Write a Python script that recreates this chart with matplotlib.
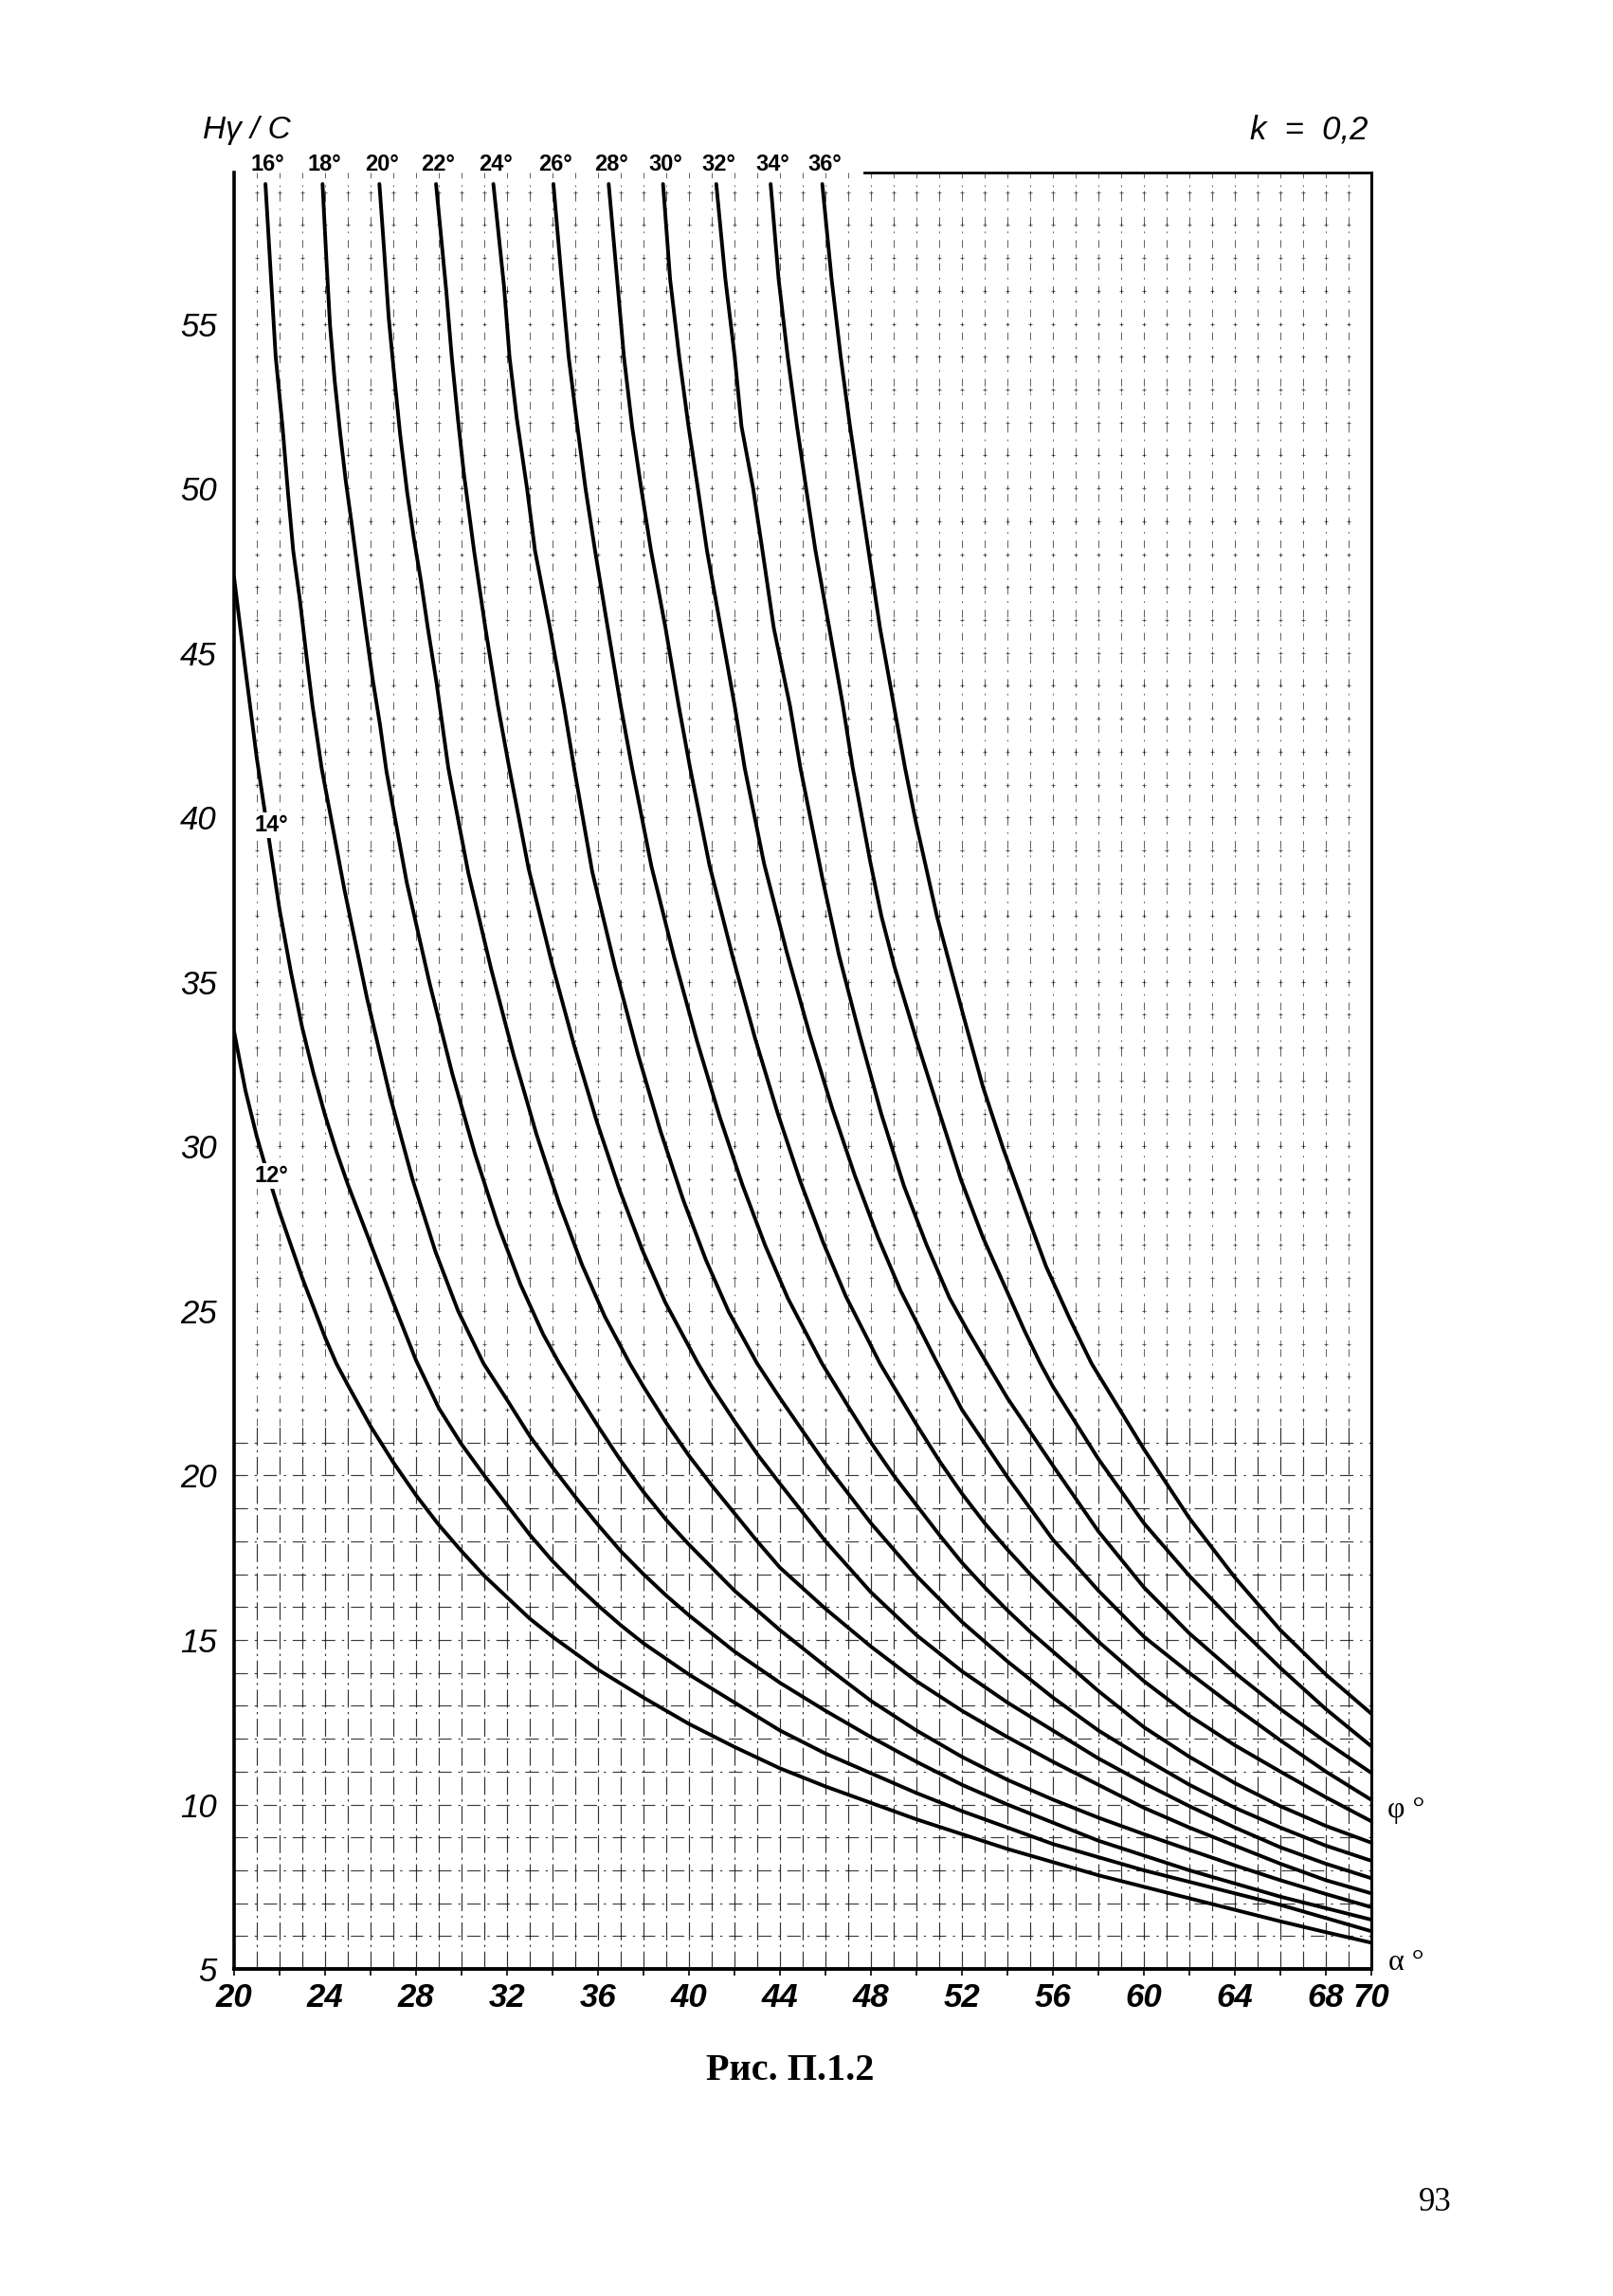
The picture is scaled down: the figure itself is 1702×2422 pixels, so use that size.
import matplotlib.pyplot as plt
import numpy as np

# slope angle alpha (deg) and H*gamma/C, one pair of lists per phi
alpha_12 = [20.0, 20.5, 21.0, 21.5, 22.0, 22.5, 23.0, 23.5, 24.0, 24.5, 25, 26, 27, 28, 29, 30, 31, 32,
            33, 34, 35, 36, 38, 40, 42, 44, 46, 48, 50, 52, 54, 56, 58, 60, 62, 64, 66, 68, 70]
h_12 = [33.5, 31.7, 30.3, 29.1, 28.0, 27.0, 26.0, 25.1, 24.2, 23.4, 22.75, 21.5, 20.4, 19.4, 18.5, 17.7,
        16.95, 16.3, 15.65, 15.1, 14.6, 14.1, 13.25, 12.45, 11.75, 11.1, 10.55, 10.05, 9.55, 9.1, 8.65,
        8.25, 7.85, 7.5, 7.15, 6.8, 6.45, 6.12, 5.8]

alpha_14 = [20.0, 20.5, 21.0, 21.5, 22.0, 22.5, 23.0, 23.5, 24.0, 24.5, 25, 26, 27, 28, 29, 30, 31, 32,
            33, 34, 35, 36, 37, 38, 40, 42, 44, 46, 48, 50, 52, 54, 56, 58, 60, 62, 64, 66, 68, 70]
h_14 = [47.3, 44.5, 41.8, 39.5, 37.2, 35.3, 33.6, 32.2, 30.95, 29.85, 28.85, 27.05, 25.25, 23.5, 22.05,
        20.95, 20.0, 19.1, 18.2, 17.4, 16.7, 16.05, 15.45, 14.9, 13.95, 13.1, 12.25, 11.55, 10.95,
        10.35, 9.8, 9.3, 8.8, 8.4, 8.0, 7.65, 7.3, 6.95, 6.55, 6.15]

alpha_16 = [21.38, 21.83, 22.13, 22.37, 22.6, 22.9, 23.18, 23.45, 23.85, 24.85, 25.85, 26.85, 27.85,
            28.85, 29.85, 30.97, 32, 33, 34, 35, 36, 37, 38, 39, 40, 42, 44, 46, 48, 50, 52, 54, 56,
            58, 60, 62, 64, 66, 68, 70]
h_16 = [59.25, 54.0, 51.88, 49.88, 48.11, 46.58, 44.92, 43.39, 41.5, 37.81, 34.49, 31.55, 28.99, 26.81,
        25.0, 23.4, 22.3, 21.2, 20.25, 19.35, 18.5, 17.7, 17.0, 16.35, 15.75, 14.65, 13.7, 12.85,
        12.05, 11.3, 10.6, 10.0, 9.45, 8.9, 8.45, 8.0, 7.6, 7.2, 6.85, 6.5]

alpha_18 = [23.89, 24.06, 24.22, 24.42, 24.67, 24.91, 25.17, 25.48, 25.78, 26.09, 26.42, 26.7, 27.59,
            28.59, 29.59, 30.59, 31.59, 32.59, 33.59, 34.3, 35, 36, 37, 38, 39, 40, 42, 44, 46, 48,
            50, 52, 54, 56, 58, 60, 62, 64, 66, 68, 70]
h_18 = [59.25, 56.95, 54.95, 53.3, 51.65, 50.23, 48.93, 47.28, 45.75, 44.22, 42.8, 41.4, 38.03, 34.98,
        32.22, 29.78, 27.64, 25.81, 24.29, 23.4, 22.6, 21.5, 20.45, 19.5, 18.65, 17.9, 16.5, 15.3,
        14.2, 13.15, 12.25, 11.45, 10.75, 10.15, 9.6, 9.1, 8.62, 8.15, 7.7, 7.28, 6.88]

alpha_20 = [26.39, 26.59, 26.8, 27.06, 27.3, 27.61, 27.91, 28.22, 28.52, 28.9, 29.42, 30.3, 31.3, 32.3,
            33.3, 34.3, 35.3, 36.3, 37.4, 38, 39, 40, 41, 42, 43, 44, 46, 48, 50, 52, 54, 56, 58, 60,
            62, 64, 66, 68, 70]
h_20 = [59.25, 57.31, 55.18, 53.3, 51.65, 49.88, 48.46, 47.17, 45.75, 44.1, 41.5, 38.31, 35.4, 32.75,
        30.36, 28.25, 26.4, 24.83, 23.4, 22.7, 21.6, 20.6, 19.7, 18.85, 18.0, 17.2, 15.95, 14.8, 13.75,
        12.85, 12.05, 11.3, 10.6, 9.9, 9.3, 8.75, 8.2, 7.7, 7.3]

alpha_22 = [28.88, 29.33, 29.57, 29.84, 30.1, 30.55, 31.05, 31.6, 32.1, 32.95, 33.95, 34.95, 35.95,
            36.95, 37.95, 38.95, 40.4, 41, 42, 43, 44, 46, 48, 50, 52, 54, 56, 58, 60, 62, 64, 66,
            68, 70]
h_22 = [59.25, 56.0, 54.0, 52.12, 50.47, 48.11, 45.75, 43.39, 41.5, 38.44, 35.63, 33.07, 30.75, 28.68,
        26.85, 25.27, 23.4, 22.7, 21.65, 20.65, 19.75, 18.0, 16.45, 15.15, 14.05, 13.1, 12.25, 11.4,
        10.65, 9.95, 9.3, 8.7, 8.2, 7.76]

alpha_24 = [31.4, 31.87, 32.11, 32.43, 32.88, 33.23, 33.89, 34.5, 34.95, 35.75, 36.75, 37.75, 38.75,
            39.75, 40.75, 41.75, 43.0, 44, 46, 48, 50, 52, 54, 56, 58, 60, 62, 64, 66, 68, 70]
h_24 = [59.25, 56.13, 54.0, 52.12, 50.0, 48.11, 45.75, 43.39, 41.5, 38.34, 35.45, 32.82, 30.46, 28.37,
        26.54, 24.97, 23.4, 22.35, 20.35, 18.55, 16.95, 15.55, 14.35, 13.25, 12.25, 11.4, 10.6, 9.9,
        9.3, 8.75, 8.29]

alpha_26 = [34.04, 34.4, 34.71, 35.05, 35.45, 35.87, 36.43, 37.0, 37.5, 38.35, 39.35, 40.35, 41.35,
            42.35, 43.35, 44.35, 45.85, 47, 48, 49, 50, 51, 52, 53, 54, 55, 56, 58, 60, 62, 64, 66,
            68, 70]
h_26 = [59.25, 56.36, 54.0, 52.12, 50.0, 48.11, 45.75, 43.39, 41.5, 38.51, 35.74, 33.21, 30.9, 28.83,
        26.99, 25.38, 23.4, 22.1, 21.0, 20.0, 19.1, 18.2, 17.35, 16.6, 15.9, 15.25, 14.65, 13.45,
        12.35, 11.45, 10.65, 9.95, 9.35, 8.84]

alpha_28 = [36.47, 36.84, 37.14, 37.5, 37.9, 38.33, 38.97, 39.55, 40.05, 40.9, 41.9, 42.9, 43.9, 44.9,
            45.9, 46.9, 48.4, 49, 50, 51, 52, 53, 54, 55, 56, 58, 60, 62, 64, 66, 68, 70]
h_28 = [59.25, 56.36, 54.0, 51.88, 50.0, 48.11, 45.75, 43.39, 41.5, 38.55, 35.82, 33.3, 31.01, 28.93,
        27.08, 25.44, 23.4, 22.7, 21.55, 20.45, 19.45, 18.55, 17.75, 17.0, 16.3, 14.95, 13.75, 12.7,
        11.8, 11.0, 10.22, 9.49]

alpha_30 = [38.86, 39.17, 39.57, 39.98, 40.39, 40.79, 41.4, 42.01, 42.45, 43.3, 44.3, 45.3, 46.3, 47.3,
            48.3, 49.3, 50.85, 52, 54, 56, 58, 60, 62, 64, 66, 68, 70]
h_30 = [59.25, 56.36, 54.0, 51.88, 50.0, 48.11, 45.75, 43.39, 41.5, 38.6, 35.9, 33.42, 31.15, 29.1,
        27.25, 25.62, 23.5, 22.0, 19.95, 18.05, 16.5, 15.1, 14.0, 12.95, 11.95, 11.0, 10.14]

alpha_32 = [41.2, 41.6, 42.01, 42.31, 42.82, 43.23, 43.73, 44.44, 44.9, 45.85, 46.6, 47.5, 48.45, 49.45,
            50.45, 51.45, 52.25, 53.1, 54, 56, 58, 60, 62, 64, 66, 68, 70]
h_32 = [59.25, 56.36, 54.0, 51.88, 50.0, 48.11, 45.75, 43.39, 41.5, 38.2, 35.8, 33.4, 31.0, 28.8, 27.0,
        25.4, 24.4, 23.4, 22.35, 20.3, 18.3, 16.6, 15.2, 14.0, 12.9, 11.9, 10.96]

alpha_34 = [43.59, 43.94, 44.34, 44.75, 45.15, 45.56, 46.17, 46.77, 47.2, 47.97, 48.46, 49.03, 50.0,
            50.97, 51.95, 52.92, 53.85, 54.75, 55.45, 56, 58, 60, 62, 64, 66, 68, 70]
h_34 = [59.25, 56.36, 54.0, 51.88, 50.0, 48.11, 45.75, 43.39, 41.5, 38.65, 37.0, 35.47, 33.24, 31.12,
        29.0, 27.24, 25.8, 24.4, 23.4, 22.7, 20.5, 18.55, 16.95, 15.5, 14.15, 12.9, 11.77]

alpha_36 = [45.86, 46.27, 46.67, 47.08, 47.48, 47.89, 48.4, 49.01, 49.5, 49.95, 50.9, 52.03, 52.92,
            53.81, 54.79, 55.7, 56.74, 57.7, 60, 62, 64, 66, 68, 70]
h_36 = [59.25, 56.36, 54.0, 51.88, 50.0, 48.11, 45.75, 43.39, 41.5, 39.94, 37.0, 34.06, 31.82, 29.94,
        28.06, 26.35, 24.76, 23.4, 20.8, 18.7, 16.9, 15.3, 13.95, 12.76]

x_ticks = [20, 24, 28, 32, 36, 40, 44, 48, 52, 56, 60, 64, 68, 70]
y_ticks = [5, 10, 15, 20, 25, 30, 35, 40, 45, 50, 55]

curves = [(12, alpha_12, h_12), (14, alpha_14, h_14), (16, alpha_16, h_16), (18, alpha_18, h_18),
          (20, alpha_20, h_20), (22, alpha_22, h_22), (24, alpha_24, h_24), (26, alpha_26, h_26),
          (28, alpha_28, h_28), (30, alpha_30, h_30), (32, alpha_32, h_32), (34, alpha_34, h_34),
          (36, alpha_36, h_36)]

X_MIN, X_MAX = 20, 70
Y_MIN, Y_MAX = 5, 59.6
SPLIT = 21.5   # grid is drawn denser below this level, as on the printed sheet

sans = ['Liberation Sans Narrow', 'Liberation Sans']
serif = ['Liberation Serif', 'DejaVu Serif']

fig = plt.figure(figsize=(17.02, 24.22), dpi=100)
ax = fig.add_axes([0.1451, 0.1424, 0.7051, 0.7825])
ax.set_xlim(X_MIN, X_MAX)
ax.set_ylim(Y_MIN, Y_MAX)

# background grid
ink = '#1a1a1a'
for a in range(X_MIN + 1, X_MAX):
    ax.plot([a, a], [Y_MIN, SPLIT], color=ink, lw=0.85, ls=(0, (16, 4, 2, 4)), alpha=0.9, zorder=1)
    ax.plot([a, a], [SPLIT, Y_MAX], color=ink, lw=0.65, ls=(0, (9, 8, 2, 8)), alpha=0.75, zorder=1)
for h in range(Y_MIN + 1, 22):
    ax.plot([X_MIN, X_MAX], [h, h], color=ink, lw=0.85, ls=(0, (12, 6, 2, 6)), alpha=0.85, zorder=1)

gx, gy = np.meshgrid(np.arange(X_MIN + 1, X_MAX), np.arange(22, 60))
ax.scatter(gx.ravel(), gy.ravel(), marker='+', s=9, lw=0.6, color=ink, alpha=0.8, zorder=1)

for phi, a, h in curves:
    ax.plot(a, h, color='black', lw=2.8, solid_capstyle='round', solid_joinstyle='round', zorder=3)
    if phi >= 16:
        ax.text(a[0] + 0.1, 59.85, f'{phi}°', ha='center', va='center', fontsize=17,
                fontweight='bold', family=sans, clip_on=False)

lbl_box = dict(facecolor='white', edgecolor='none', pad=1.5)
ax.text(21.63, 39.76, '14°', ha='center', va='center', fontsize=17, fontweight='bold',
        family=sans, bbox=lbl_box, zorder=4)
ax.text(21.63, 29.1, '12°', ha='center', va='center', fontsize=17, fontweight='bold',
        family=sans, bbox=lbl_box, zorder=4)

# frame: no full top spine, only the short piece right of the labels
ax.spines['top'].set_visible(False)
ax.spines['left'].set_linewidth(2.6)
ax.spines['bottom'].set_linewidth(2.8)
ax.spines['right'].set_linewidth(2.2)
ax.plot([47.7, X_MAX], [Y_MAX, Y_MAX], color='black', lw=2.0, clip_on=False, zorder=3)

ax.set_xticks(x_ticks)
ax.set_xticklabels([str(v) for v in x_ticks], fontsize=25, style='italic', fontweight='bold',
                   family=sans)
ax.set_xticks(np.arange(X_MIN, X_MAX + 1, 2), minor=True)
ax.set_yticks(y_ticks)
ax.set_yticklabels([str(v) for v in y_ticks], fontsize=25, style='italic', family=sans)
ax.tick_params(axis='x', which='both', length=5, width=1.2, pad=5)
ax.tick_params(axis='y', which='both', length=0, pad=13)

fig.text(0.1528, 0.9434, 'Hγ / C', ha='center', va='center', fontsize=24, style='italic', family=sans)
fig.text(0.8484, 0.9434, 'k  =  0,2', ha='right', va='center', fontsize=25, style='italic', family=sans)
fig.text(0.8602, 0.2118, 'φ °', ha='left', va='center', fontsize=23, family=serif)
fig.text(0.8610, 0.1453, 'α °', ha='left', va='center', fontsize=23, family=serif)
fig.text(0.49, 0.0979, 'Рис. П.1.2', ha='center', va='center', fontsize=29, fontweight='bold',
         family=serif)
fig.text(0.8896, 0.0405, '93', ha='center', va='center', fontsize=25, family=serif)

plt.savefig('out.png', dpi=100, facecolor='white')
